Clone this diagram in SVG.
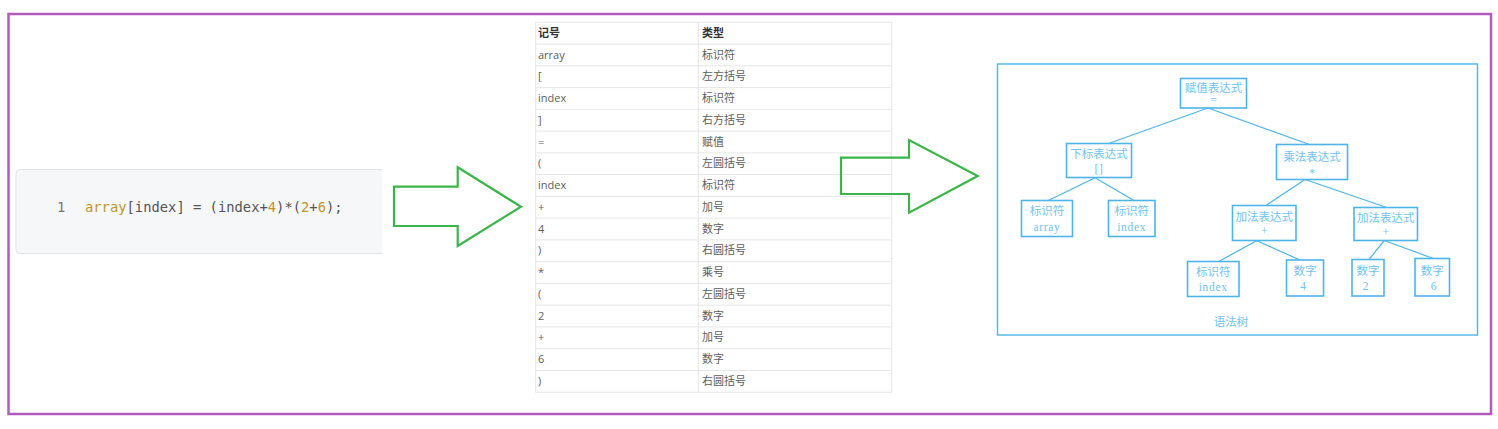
<svg xmlns="http://www.w3.org/2000/svg" width="1498" height="429" viewBox="0 0 1498 429">
<style>
.tb{font-family:"Open Sans","Noto Sans CJK SC",sans-serif;font-size:11px;fill:#5e5e5e}
.th{font-family:"Open Sans","Noto Sans CJK SC",sans-serif;font-size:11px;font-weight:bold;fill:#333}
.tl{stroke:#e6e6e6;stroke-width:1;fill:none}
.arrow{fill:none;stroke:#3bb54a;stroke-width:2.2;stroke-linejoin:miter}
.node rect{fill:none;stroke:#4db5e8;stroke-width:1.6}
.node text,.cap{font-family:"Liberation Serif","Noto Sans CJK SC",serif;font-size:11.5px;fill:#6fc4ee;text-anchor:middle}
.node text.lat{letter-spacing:0.7px}
.edge{stroke:#4db5e8;stroke-width:1.2;fill:none}
.code{font-family:"DejaVu Sans Mono","Liberation Mono",monospace;font-size:13.8px;fill:#555}
.g{fill:#bf952c}
</style>
<rect x="8.5" y="14" width="1482.5" height="400" fill="none" stroke="#b15cbb" stroke-width="2.5"/>

<g id="code">
<path d="M382,169.5 H20 a4,4 0 0 0 -4,4 V249.5 a4,4 0 0 0 4,4 H382" fill="#f6f7f8" stroke="#e2e3e5" stroke-width="1"/>
<text x="57" y="212" class="code" style="fill:#777">1</text>
<text x="85" y="212" class="code"><tspan class="g">array</tspan>[index] = (index+<tspan class="g">4</tspan>)*(<tspan class="g">2</tspan>+<tspan class="g">6</tspan>);</text>
</g>

<g id="table">
<rect x="535.7" y="22.3" width="356" height="370" class="tl"/>
<line x1="698.3" y1="22.3" x2="698.3" y2="392.3" class="tl"/>
<g class="tl">
<line x1="535.7" y1="44.1" x2="891.7" y2="44.1"/>
<line x1="535.7" y1="65.8" x2="891.7" y2="65.8"/>
<line x1="535.7" y1="87.6" x2="891.7" y2="87.6"/>
<line x1="535.7" y1="109.3" x2="891.7" y2="109.3"/>
<line x1="535.7" y1="131.1" x2="891.7" y2="131.1"/>
<line x1="535.7" y1="152.9" x2="891.7" y2="152.9"/>
<line x1="535.7" y1="174.6" x2="891.7" y2="174.6"/>
<line x1="535.7" y1="196.4" x2="891.7" y2="196.4"/>
<line x1="535.7" y1="218.1" x2="891.7" y2="218.1"/>
<line x1="535.7" y1="239.9" x2="891.7" y2="239.9"/>
<line x1="535.7" y1="261.7" x2="891.7" y2="261.7"/>
<line x1="535.7" y1="283.4" x2="891.7" y2="283.4"/>
<line x1="535.7" y1="305.2" x2="891.7" y2="305.2"/>
<line x1="535.7" y1="326.9" x2="891.7" y2="326.9"/>
<line x1="535.7" y1="348.7" x2="891.7" y2="348.7"/>
<line x1="535.7" y1="370.5" x2="891.7" y2="370.5"/>
</g>
<text x="538" y="37" class="th">记号</text><text x="702" y="37" class="th">类型</text>
<text x="538" y="58.6" class="tb">array</text><text x="702" y="58.6" class="tb">标识符</text>
<text x="538" y="80.3" class="tb">[</text><text x="702" y="80.3" class="tb">左方括号</text>
<text x="538" y="102.1" class="tb">index</text><text x="702" y="102.1" class="tb">标识符</text>
<text x="538" y="123.8" class="tb">]</text><text x="702" y="123.8" class="tb">右方括号</text>
<text x="538" y="145.6" class="tb">=</text><text x="702" y="145.6" class="tb">赋值</text>
<text x="538" y="167.4" class="tb">(</text><text x="702" y="167.4" class="tb">左圆括号</text>
<text x="538" y="189.1" class="tb">index</text><text x="702" y="189.1" class="tb">标识符</text>
<text x="538" y="210.9" class="tb">+</text><text x="702" y="210.9" class="tb">加号</text>
<text x="538" y="232.6" class="tb">4</text><text x="702" y="232.6" class="tb">数字</text>
<text x="538" y="254.4" class="tb">)</text><text x="702" y="254.4" class="tb">右圆括号</text>
<text x="538" y="276.2" class="tb">*</text><text x="702" y="276.2" class="tb">乘号</text>
<text x="538" y="297.9" class="tb">(</text><text x="702" y="297.9" class="tb">左圆括号</text>
<text x="538" y="319.7" class="tb">2</text><text x="702" y="319.7" class="tb">数字</text>
<text x="538" y="341.4" class="tb">+</text><text x="702" y="341.4" class="tb">加号</text>
<text x="538" y="363.2" class="tb">6</text><text x="702" y="363.2" class="tb">数字</text>
<text x="538" y="385" class="tb">)</text><text x="702" y="385" class="tb">右圆括号</text>
</g>

<g id="arrow1"><polygon class="arrow" points="394,186.7 457.7,186.7 457.7,167.3 521,206.7 457.7,246 457.7,226 394,226"/></g>
<g id="arrow2"><polygon class="arrow" points="841,157.7 909,157.7 909,140 977.7,176 909,212.7 909,194 841,194"/></g>

<g id="tree-frame">
<rect x="997.5" y="64" width="480" height="271" fill="none" stroke="#4db5e8" stroke-width="1.4"/>
<text x="1231" y="326" class="cap">语法树</text>
</g>

<g id="connectors">
<line class="edge" x1="1208" y1="108" x2="1108.5" y2="143.5"/>
<line class="edge" x1="1208" y1="108" x2="1309.5" y2="144.5"/>
<line class="edge" x1="1095" y1="177.7" x2="1048.3" y2="200.5"/>
<line class="edge" x1="1095" y1="177.7" x2="1134" y2="200.5"/>
<line class="edge" x1="1305" y1="179.5" x2="1266" y2="205.5"/>
<line class="edge" x1="1305" y1="179.5" x2="1386.7" y2="207.5"/>
<line class="edge" x1="1256.7" y1="240.7" x2="1218.3" y2="261.7"/>
<line class="edge" x1="1256.7" y1="240.7" x2="1300" y2="260"/>
<line class="edge" x1="1384.3" y1="240.5" x2="1369" y2="259.5"/>
<line class="edge" x1="1384.3" y1="240.5" x2="1433.3" y2="258.5"/>
</g>

<g id="n-assign" class="node"><rect x="1180.5" y="78.5" width="66" height="29.5"/><text x="1213.5" y="92">赋值表达式</text><text x="1213.5" y="104">=</text></g>
<g id="n-subscript" class="node"><rect x="1066.5" y="143.5" width="65" height="34"/><text x="1099" y="158">下标表达式</text><text x="1099" y="172.5" class="lat">[]</text></g>
<g id="n-id-array" class="node"><rect x="1021.5" y="200.5" width="51" height="36"/><text x="1047" y="215">标识符</text><text x="1047" y="230.5" class="lat">array</text></g>
<g id="n-id-index1" class="node"><rect x="1108.5" y="200.5" width="46.5" height="36"/><text x="1131.7" y="215">标识符</text><text x="1131.7" y="230.5" class="lat">index</text></g>
<g id="n-mul" class="node"><rect x="1276.5" y="144.5" width="71" height="35"/><text x="1312" y="161">乘法表达式</text><text x="1312" y="177">*</text></g>
<g id="n-add1" class="node"><rect x="1232.5" y="205.5" width="63.5" height="35"/><text x="1264.2" y="221">加法表达式</text><text x="1264.2" y="234.5">+</text></g>
<g id="n-add2" class="node"><rect x="1354" y="207.5" width="63.5" height="33"/><text x="1385.7" y="222">加法表达式</text><text x="1385.7" y="235.5">+</text></g>
<g id="n-id-index2" class="node"><rect x="1187.5" y="261.5" width="51.5" height="35"/><text x="1213.2" y="276">标识符</text><text x="1213.2" y="291" class="lat">index</text></g>
<g id="n-num4" class="node"><rect x="1286.5" y="260" width="37" height="36"/><text x="1305" y="274.5">数字</text><text x="1303" y="290">4</text></g>
<g id="n-num2" class="node"><rect x="1352" y="259.5" width="32" height="36.5"/><text x="1368" y="274.5">数字</text><text x="1365.5" y="290">2</text></g>
<g id="n-num6" class="node"><rect x="1415" y="258.5" width="34.5" height="37.5"/><text x="1432.2" y="274.5">数字</text><text x="1433.5" y="290">6</text></g>
</svg>
